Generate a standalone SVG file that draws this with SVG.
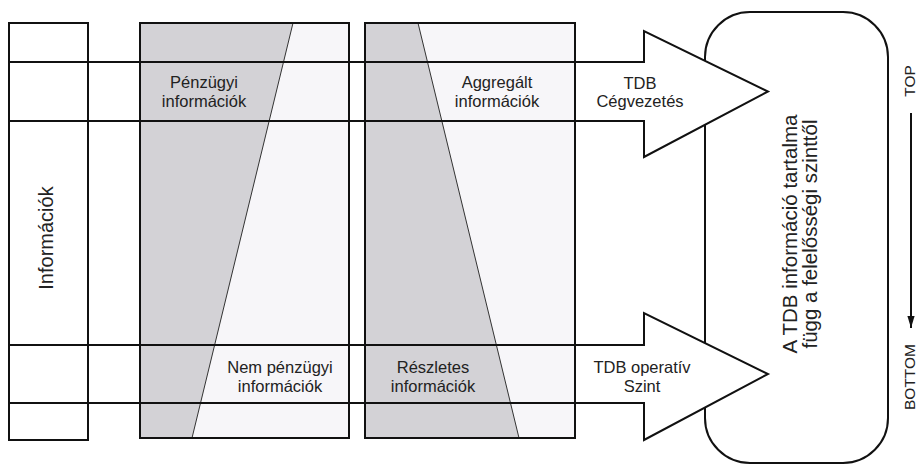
<svg xmlns="http://www.w3.org/2000/svg" width="918" height="465" viewBox="0 0 918 465">
<defs>
<style>
.box{fill:none;stroke:#111;stroke-width:2}
.ln{stroke:#111;stroke-width:2;fill:none;stroke-linejoin:miter}
.dg{stroke:#333;stroke-width:1}
.t{font-family:"Liberation Sans",Arial,sans-serif;font-size:16.5px;fill:#222;text-anchor:middle}
.big{font-family:"Liberation Sans",Arial,sans-serif;font-size:20.5px;fill:#222;text-anchor:middle}
.sm{font-family:"Liberation Sans",Arial,sans-serif;font-size:15.5px;fill:#222;text-anchor:middle}
.head{fill:#fff;stroke:none}
</style>
<marker id="ah" markerWidth="12" markerHeight="22" refX="20" refY="6" orient="auto" markerUnits="userSpaceOnUse" viewBox="0 0 20 12">
<path d="M0,0 L20,6 L0,12 Z" fill="#111"/>
</marker>
</defs>
<rect width="918" height="465" fill="#fff"/>

<g id="level-box">
<rect x="705" y="12" width="183" height="451" rx="45" ry="45" fill="#fff" stroke="#111" stroke-width="2"/>
<text class="big" transform="translate(797,234) rotate(-90)">A TDB információ tartalma</text>
<text class="big" transform="translate(817,234) rotate(-90)">függ a felelősségi szinttől</text>
</g>

<g id="informaciok">
<rect class="box" x="9" y="23" width="79" height="417" fill="#fff"/>
<text class="big" transform="translate(53,238) rotate(-90)" style="font-size:20px">Információk</text>
</g>

<g id="penzugyi">
<rect x="140" y="23" width="209" height="415" fill="#f7f6f9"/>
<polygon points="140,23 293,23 192,438 140,438" fill="#d3d2d6"/>
<line class="dg" x1="293" y1="23" x2="192" y2="438"/>
<rect class="box" x="140" y="23" width="209" height="415"/>
</g>

<g id="aggregalt">
<rect x="365" y="23" width="210" height="415" fill="#f7f6f9"/>
<polygon points="365,23 418,23 519,438 365,438" fill="#d3d2d6"/>
<line class="dg" x1="418" y1="23" x2="519" y2="438"/>
<rect class="box" x="365" y="23" width="210" height="415"/>
</g>

<g id="connectors">
<path class="head" d="M644,62 L644,31 L768,91.5 L644,157 L644,121 Z"/>
<path class="ln" d="M9,62 L644,62 L644,31 L768,91.5 L644,157 L644,121 L9,121"/>
<path class="head" d="M644,345 L644,313 L768,374 L644,440 L644,403 Z"/>
<path class="ln" d="M9,345 L644,345 L644,313 L768,374 L644,440 L644,403 L9,403"/>
<line x1="911" y1="113" x2="911" y2="328" stroke="#111" stroke-width="2" marker-end="url(#ah)"/>
</g>

<g id="labels">
<text class="t" x="204" y="88">Pénzügyi</text>
<text class="t" x="204" y="107">információk</text>
<text class="t" x="497" y="88">Aggregált</text>
<text class="t" x="497" y="107">információk</text>
<text class="t" x="640" y="89">TDB</text>
<text class="t" x="640" y="107">Cégvezetés</text>
<text class="t" x="280" y="373">Nem pénzügyi</text>
<text class="t" x="280" y="392">információk</text>
<text class="t" x="433" y="373">Részletes</text>
<text class="t" x="433" y="392">információk</text>
<text class="t" x="642" y="373">TDB operatív</text>
<text class="t" x="642" y="392">Szint</text>
<text class="sm" transform="translate(915,81) rotate(-90)">TOP</text>
<text class="sm" transform="translate(915,377) rotate(-90)">BOTTOM</text>
</g>
</svg>
